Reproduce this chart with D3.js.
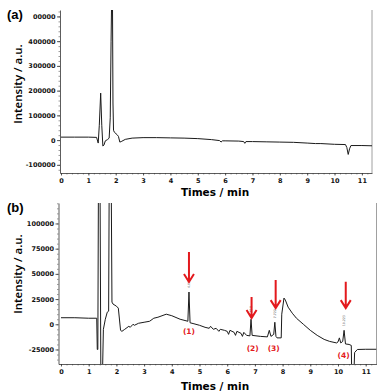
<!DOCTYPE html>
<html>
<head>
<meta charset="utf-8">
<script src="https://cdn.jsdelivr.net/npm/d3@7"></script>
<style>
  body { margin: 0; background: #fff; }
  svg { display: block; }
  .tick text { font-family: "DejaVu Sans", sans-serif; font-weight: bold; font-size: 6.5px; fill: #111; }
  .axis path, .axis line { stroke: #333; stroke-width: 0.8; }
  .minor path { display: none; }
  .minor line { stroke: #555; stroke-width: 0.6; }
  .trace { fill: none; stroke: #1a1a1a; stroke-width: 1; stroke-linejoin: round; }
</style>
</head>
<body>
<div id="chart"></div>
<script>
// panel (a)
const timesA = [0, 0.5, 1.0, 1.3, 1.36, 1.40, 1.45, 1.49, 1.53, 1.57, 1.62, 1.70, 1.76, 1.80, 1.83, 1.855, 1.88, 1.90, 1.92, 1.95, 2.05, 2.10, 2.15, 2.20, 2.35, 2.6, 3.0, 3.5, 4.0, 4.5, 5.0, 5.5, 5.8, 5.85, 5.9, 6.0, 6.5, 6.68, 6.72, 6.76, 7.0, 7.5, 8.0, 8.5, 9.0, 9.3, 9.5, 10.0, 10.4, 10.45, 10.5, 10.55, 10.6, 11.0, 11.37];
const intensA = [12000, 12000, 12000, 11000, -12000, 60000, 190000, 60000, -24000, -20000, -3000, 2000, 8000, 90000, 400000, 600000, 600000, 150000, 40000, 32000, 22000, 15000, -8000, -6000, 3000, 8000, 10000, 10000, 9000, 8000, 6000, 2000, -2000, -8000, -3000, -3000, -4000, -6000, -13000, -6000, -6000, -7000, -8000, -9000, -12000, -14000, -14000, -17000, -18000, -30000, -58000, -35000, -22000, -22000, -23000];
const yTicksA = [500000, 400000, 300000, 200000, 100000, 0, -100000];
const yLabelsA = ["00000", "400000", "300000", "200000", "100000", "0", "-100000"];

// panel (b)
const timesB = [0, 0.5, 1.0, 1.29, 1.31, 1.33, 1.36, 1.40, 1.44, 1.49, 1.53, 1.60, 1.67, 1.72, 1.75, 1.80, 1.84, 1.88, 2.0, 2.07, 2.15, 2.2, 2.3, 2.45, 2.5, 2.6, 2.65, 2.8, 3.0, 3.2, 3.35, 3.5, 3.8, 4.0, 4.3, 4.58, 4.62, 4.66, 4.8, 5.0, 5.2, 5.35, 5.4, 5.5, 5.6, 5.7, 5.75, 5.9, 6.0, 6.05, 6.1, 6.25, 6.3, 6.35, 6.5, 6.55, 6.6, 6.7, 6.82, 6.86, 6.9, 7.2, 7.45, 7.52, 7.58, 7.68, 7.72, 7.76, 7.8, 7.95, 7.97, 8.05, 8.1, 8.2, 8.35, 8.5, 8.75, 9.0, 9.25, 9.5, 9.7, 9.95, 10.0, 10.05, 10.1, 10.17, 10.22, 10.27, 10.4, 10.48, 10.5, 10.56, 10.6, 10.7, 11.0, 11.39];
const intensB = [6500, 6500, 6000, 6000, -25000, -25000, 200000, 200000, -60000, -60000, -5000, 5000, 12000, 13000, 200000, 200000, 22000, 20000, 18000, 16000, -6000, -7000, -5000, -2000, -3000, 0, -1000, 1000, 2000, 3000, 6000, 7000, 10000, 8500, 5000, 3000, 32000, 1500, 500, -1000, -3000, -4000, -2000, -5000, -4000, -7000, -5000, -6000, -7000, -10000, -6000, -8000, -11000, -7000, -9000, -12000, -8000, -11000, -11500, 5000, -11000, -12000, -12500, -6000, -12000, -10000, 2000, -12000, -13500, -13500, 10000, 26000, 24000, 17000, 11000, 6000, 0, -6000, -11000, -15000, -17000, -18500, -17500, -13500, -18500, -17000, -6000, -19500, -20000, -21000, -60000, -60000, -28000, -25000, -24800, -24800];
const yTicksB = [100000, 75000, 50000, 25000, 0, -25000];
const yLabelsB = ["100000", "75000", "50000", "25000", "0", "-25000"];

const xTicks = [0, 1, 2, 3, 4, 5, 6, 7, 8, 9, 10, 11];

// marked peaks in (b)
const peakNames = ["(1)", "(2)", "(3)", "(4)"];
const peakTimes = [4.62, 6.88, 7.75, 10.28];
const arrowTop = [71700, 27000, 44000, 42300];
const arrowTip = [42000, 6200, 16000, 16000];
const labelTimes = [4.62, 6.92, 7.68, 10.2];
const labelVals = [-7300, -23500, -23500, -31000];
const peakTags = ["4.627", "6.858", "7.722", "10.223"];
const peakTagTimes = [4.62, 6.86, 7.72, 10.22];
const peakTagVals = [36000, 9000, 6000, -2000];

const W = 386, H = 392;
const svg = d3.select("#chart").append("svg")
  .attr("width", W).attr("height", H);

function panel(opt) {
  const x = d3.scaleLinear().domain(opt.xDomain).range([opt.left, opt.right]);
  const y = d3.scaleLinear().domain(opt.yDomain).range([opt.bottom, opt.top]);
  const g = svg.append("g");

  g.append("clipPath").attr("id", opt.id + "clip")
    .append("rect")
    .attr("x", opt.left).attr("y", opt.top)
    .attr("width", opt.right - opt.left).attr("height", opt.bottom - opt.top);

  // right frame line
  g.append("line")
    .attr("x1", opt.right).attr("x2", opt.right)
    .attr("y1", opt.top).attr("y2", opt.bottom)
    .attr("stroke", "#888").attr("stroke-width", 0.8);

  // minor ticks
  g.append("g").attr("class", "minor")
    .attr("transform", "translate(0," + opt.bottom + ")")
    .call(d3.axisBottom(x).tickValues(d3.range(0, 11.4, 0.2)).tickSize(1.5).tickFormat(""));
  g.append("g").attr("class", "minor")
    .attr("transform", "translate(" + opt.left + ",0)")
    .call(d3.axisLeft(y).tickValues(d3.range(opt.minorStart, opt.yDomain[1], opt.minorStep)).tickSize(1.5).tickFormat(""));

  g.append("g").attr("class", "axis")
    .attr("transform", "translate(0," + opt.bottom + ")")
    .call(d3.axisBottom(x).tickValues(xTicks).tickSize(2.5).tickSizeOuter(0).tickPadding(3));

  g.append("g").attr("class", "axis")
    .attr("transform", "translate(" + opt.left + ",0)")
    .call(d3.axisLeft(y).tickValues(opt.yTicks).tickSize(3).tickSizeOuter(0).tickPadding(1.5)
      .tickFormat((d, i) => opt.yLabels[i]));

  const line = d3.line().x(d => x(d[0])).y(d => y(d[1]));
  g.append("path")
    .attr("class", "trace")
    .attr("clip-path", "url(#" + opt.id + "clip)")
    .attr("d", line(d3.zip(opt.times, opt.vals)));

  // axis titles
  g.append("text")
    .attr("x", 215).attr("y", opt.xTitleY)
    .attr("text-anchor", "middle")
    .style("font-family", "DejaVu Sans, sans-serif")
    .style("font-weight", "bold").style("font-size", "10.5px")
    .text("Times / min");

  g.append("text")
    .attr("transform", "translate(22," + opt.yTitleY + ") rotate(-90)")
    .attr("text-anchor", "middle")
    .style("font-family", "Open Sans, sans-serif")
    .style("font-weight", 600).style("font-size", "11.5px")
    .text("Intensity / a.u.");

  g.append("text")
    .attr("x", 7).attr("y", opt.top + 9)
    .style("font-family", "Liberation Sans, Arial, sans-serif")
    .style("font-weight", "bold").style("font-size", "13px")
    .text(opt.tag);

  return { g, x, y };
}

panel({
  id: "a", tag: "(a)",
  left: 60, right: 372, top: 10, bottom: 173,
  xDomain: [-0.037, 11.37], yDomain: [-133000, 526000],
  yTicks: yTicksA, yLabels: yLabelsA,
  minorStart: -120000, minorStep: 20000,
  times: timesA, vals: intensA,
  xTitleY: 196, yTitleY: 84
});

const pb = panel({
  id: "b", tag: "(b)",
  left: 58.5, right: 376.5, top: 203, bottom: 364,
  xDomain: [-0.09, 11.39], yDomain: [-39400, 120300],
  yTicks: yTicksB, yLabels: yLabelsB,
  minorStart: -35000, minorStep: 5000,
  times: timesB, vals: intensB,
  xTitleY: 390, yTitleY: 274
});

// tiny retention time tags on peaks
pb.g.selectAll(".ptag").data(peakTags).enter().append("text")
  .attr("transform", (d, i) => "translate(" + (pb.x(peakTagTimes[i]) + 1) + "," + pb.y(peakTagVals[i]) + ") rotate(-90)")
  .style("font-family", "DejaVu Sans, sans-serif")
  .style("font-size", "3.2px").attr("fill", "#666")
  .text(d => d);

// red arrows and labels
const red = "#e3191d";
pb.g.selectAll(".arrow").data(peakTimes).enter().append("path")
  .attr("fill", "none").attr("stroke", red).attr("stroke-width", 2)
  .attr("stroke-linejoin", "miter")
  .attr("d", (d, i) => {
    const px = pb.x(d), y0 = pb.y(arrowTop[i]), y1 = pb.y(arrowTip[i]);
    return "M" + px + "," + y0 + "V" + (y1 - 1) +
      "M" + (px - 5) + "," + (y1 - 8) + "L" + px + "," + y1 + "L" + (px + 5) + "," + (y1 - 8);
  });

pb.g.selectAll(".plabel").data(peakNames).enter().append("text")
  .attr("x", (d, i) => pb.x(labelTimes[i]))
  .attr("y", (d, i) => pb.y(labelVals[i]))
  .attr("dy", "0.35em")
  .attr("text-anchor", "middle")
  .attr("fill", red)
  .style("font-family", "DejaVu Sans, sans-serif")
  .style("font-weight", "bold").style("font-size", "7.5px")
  .text(d => d);
</script>
</body>
</html>
